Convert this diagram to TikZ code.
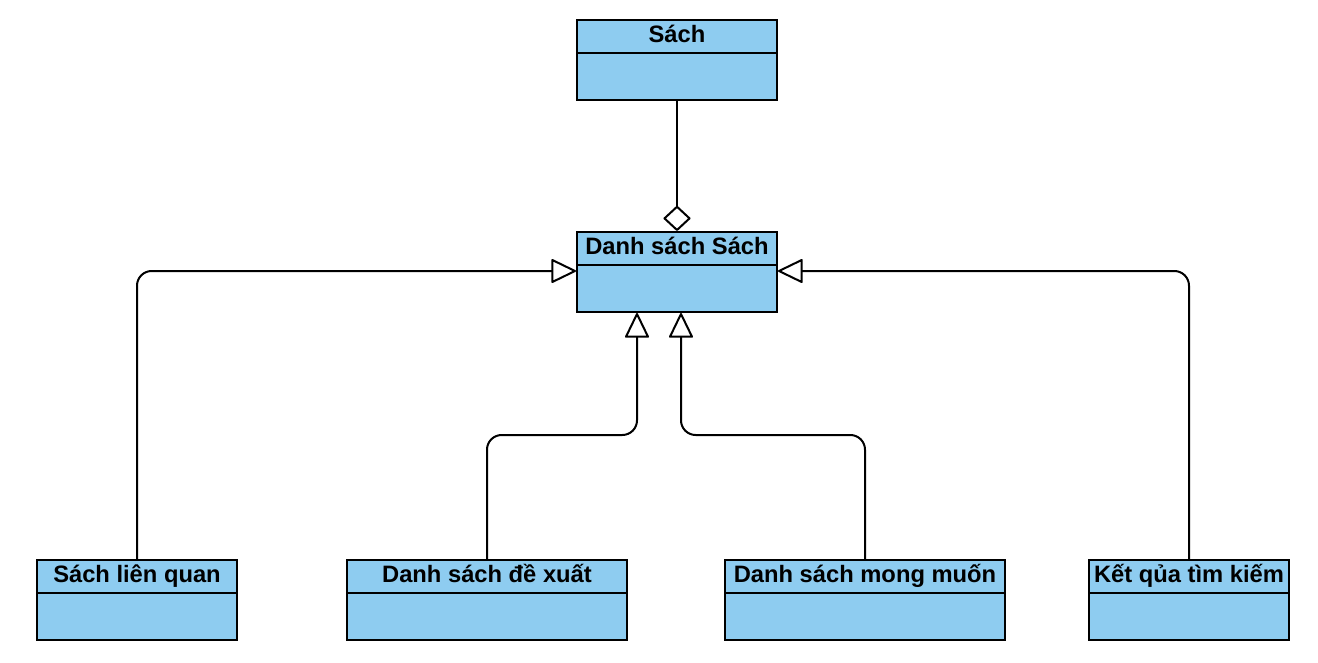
\documentclass[tikz,border=0pt]{standalone}
\usepackage{fontspec}
\setmainfont{Liberation Sans}
\usepackage{xcolor}
\usepackage{tikz}
\usetikzlibrary{arrows.meta,positioning,calc}
\definecolor{classblue}{RGB}{142,204,240}
\tikzstyle{classbox} = [rectangle, draw, fill=classblue, line width=1.5pt, minimum width=150pt, minimum height=60pt, inner sep=0pt]
\tikzstyle{classtitle} = [rectangle, draw, fill=classblue, line width=1.5pt, anchor=north, minimum width=150pt, minimum height=24.75pt, inner sep=0pt, text height=13pt, text depth=4pt, font=\fontsize{17.8}{20}\selectfont\bfseries]
\tikzstyle{inherit} = [line width=1.5pt, rounded corners=11pt, -{Triangle[open,length=19.5pt,width=18.5pt,round]}]
\tikzstyle{aggregate} = [line width=1.5pt, -{Diamond[open,length=19.5pt,width=21pt,round]}]

\begin{document}
\begin{tikzpicture}[x=0.75pt, y=-0.75pt]
    \useasboundingbox (0,0) rectangle (1318,662);

    \node[classbox] (sach) at (677,60) {};
    \node[classtitle] (sach-t) at (sach.north) {Sách};

    \node[classbox] (dss) at (677,272) {};
    \node[classtitle] (dss-t) at (dss.north) {Danh sách Sách};

    \node[classbox] (lienquan) at (137,600) {};
    \node[classtitle] (lienquan-t) at (lienquan.north) {Sách liên quan};
    \node[classbox, minimum width=210pt] (dexuat) at (487,600) {};
    \node[classtitle, minimum width=210pt] (dexuat-t) at (dexuat.north) {Danh sách đề xuất};
    \node[classbox, minimum width=210pt] (mongmuon) at (865,600) {};
    \node[classtitle, minimum width=210pt] (mongmuon-t) at (mongmuon.north) {Danh sách mong muốn};
    \node[classbox] (ketqua) at (1189,600) {};
    \node[classtitle] (ketqua-t) at (ketqua.north) {Kết qủa tìm kiếm};

    \draw[aggregate] (sach) -- (dss);

    \draw[inherit] (lienquan.north) |- ([yshift=0.75pt]dss.west);
    \draw[inherit] (ketqua.north) |- ([yshift=0.75pt]dss.east);
    \draw[inherit] (dexuat.north) -- ++(0,-124) -| ([xshift=-30pt]dss.south);
    \draw[inherit] (mongmuon.north) -- ++(0,-124) -| ([xshift=3pt]dss.south);
\end{tikzpicture}
\end{document}
